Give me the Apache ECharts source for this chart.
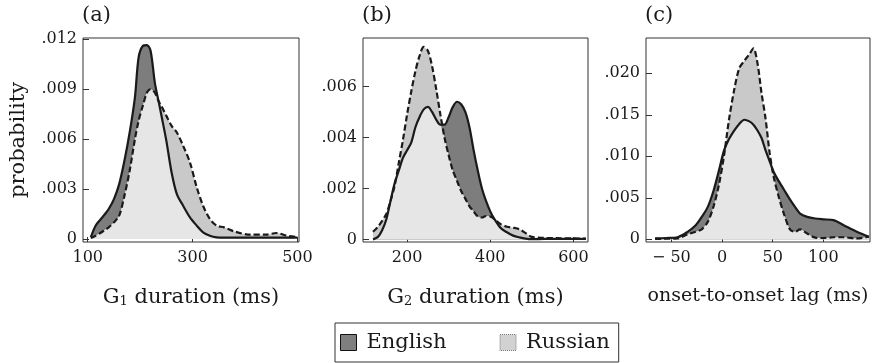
<!DOCTYPE html>
<html>
<head>
<meta charset="utf-8">
<title>duration densities</title>
<script src="https://cdn.jsdelivr.net/npm/echarts@6.0.0/dist/echarts.min.js"></script>
<style>
    html, body { margin: 0; padding: 0; background: #fff; }
    #density_chart { width: 875px; height: 363px; }
</style>
</head>
<body>
<div id="density_chart"></div>
<script>
var fontName = 'DejaVu Serif';
var inkColor = '#1a1a1a';

// (a) G1 duration (ms)
var g1Ms = [106, 115, 124, 133, 140, 150, 160, 170, 180, 190, 197, 205, 213, 220, 228, 235, 242, 250, 260, 270,
    282, 295, 308, 320, 333, 346, 360, 380, 410, 440, 460, 480, 500];
var g1English = [0.00012, 0.0008, 0.00116, 0.0015, 0.0018, 0.0024, 0.0033, 0.0047, 0.0064, 0.0085,
    0.0109, 0.0116, 0.01165, 0.0113, 0.0094, 0.0083, 0.0072, 0.0059, 0.0040, 0.0027,
    0.0020, 0.0013, 0.0008, 0.0004, 0.0002, 0.0001, 0.00008, 0.00008, 0.00008, 0.00008,
    0.00008, 0.00008, 0.00008];
var g1Russian = [0.00006, 0.0002, 0.00036, 0.00055, 0.0007, 0.001, 0.0014, 0.0026, 0.0041, 0.0060,
    0.0071, 0.0080, 0.0088, 0.0090, 0.0088, 0.0083, 0.0079, 0.0074, 0.0068, 0.0064,
    0.0056, 0.0046, 0.0031, 0.0020, 0.0012, 0.0008, 0.0007, 0.00045, 0.00026, 0.00026,
    0.00036, 0.0002, 0.00012];

// (b) G2 duration (ms)
var g2Ms = [118, 130, 140, 150, 160, 170, 180, 190, 200, 210, 220, 230, 240, 250, 260, 270, 280, 290, 300, 310,
    320, 330, 340, 350, 360, 370, 380, 390, 400, 410, 425, 440, 455, 470, 485, 500, 530, 560, 600, 630];
var g2English = [0, 0.0001, 0.00036, 0.00078, 0.0015, 0.0022, 0.0027, 0.0032, 0.0035, 0.0038,
    0.0044, 0.0048, 0.0051, 0.0052, 0.0050, 0.0047, 0.0045, 0.0045, 0.0048, 0.0052,
    0.0054, 0.0053, 0.0050, 0.0044, 0.0035, 0.0027, 0.0020, 0.0015, 0.0011, 0.0008,
    0.00045, 0.00028, 0.00015, 0.00008, 0.00003, 0.00001, 0.00002, 0.00002, 0.00002, 0.00002];
var g2Russian = [0.0003, 0.0005, 0.00073, 0.001, 0.0015, 0.0021, 0.0030, 0.0039, 0.0049, 0.0058,
    0.0066, 0.0072, 0.00755, 0.0074, 0.0068, 0.0059, 0.0049, 0.0040, 0.0033, 0.0027,
    0.0023, 0.0019, 0.0016, 0.0013, 0.0011, 0.0009, 0.00086, 0.00092, 0.0009, 0.0008,
    0.0006, 0.0005, 0.00046, 0.0004, 0.00025, 0.0001, 0.00006, 0.00005, 0.00004, 0.00003];

// (c) onset-to-onset lag (ms)
var lagMs = [-66, -55, -44, -34, -26, -20, -14, -8, -3, 2, 7, 12, 17, 22, 27, 31, 35, 39, 43, 47,
    51, 56, 61, 67, 72, 77, 84, 92, 100, 110, 120, 133, 145];
var lagEnglish = [0.0001, 0.00015, 0.00024, 0.0009, 0.0017, 0.0027, 0.0039, 0.0060, 0.0083, 0.0107,
    0.0121, 0.0131, 0.0139, 0.0144, 0.0142, 0.0138, 0.0131, 0.0122, 0.0107, 0.0094,
    0.0081, 0.0070, 0.0060, 0.0048, 0.0039, 0.0031, 0.0027, 0.0025, 0.0024, 0.0023,
    0.0017, 0.0009, 0.0003];
var lagRussian = [0.00004, 0.00006, 0.0001, 0.0006, 0.0009, 0.0012, 0.0021, 0.0041, 0.0066, 0.0101,
    0.0145, 0.0180, 0.0206, 0.0215, 0.0223, 0.0230, 0.0212, 0.0176, 0.0145, 0.0104,
    0.0075, 0.0051, 0.0031, 0.0012, 0.0009, 0.0012, 0.0007, 0.0002, 0.00015, 0.00024,
    0.00024, 0.0001, 0.0003];

// tick labels
var g1Ticks = [100, 300, 500];
var g2Ticks = [200, 400, 600];
var lagTicks = [-50, 0, 50, 100];
var g1ProbTicks = [0, 0.003, 0.006, 0.009, 0.012];
var g2ProbTicks = [0, 0.002, 0.004, 0.006];
var lagProbTicks = [0, 0.005, 0.010, 0.015, 0.020];

var panelLetters = ['(a)', '(b)', '(c)'];
var axisNames = ['G{sub|1} duration (ms)', 'G{sub|2} duration (ms)', 'onset-to-onset lag (ms)'];

// tiny stand-in for jQuery.extend, no jQuery on this page
function extend(target) {
    for (var i = 1; i < arguments.length; i++) {
        for (var key in arguments[i]) target[key] = arguments[i][key];
    }
    return target;
}

// fills first (russian, english, overlap), then the two outlines on top
function panelSeries(idx, xs, eng, rus) {
    var engData = [], rusData = [], bothData = [];
    for (var i = 0; i < xs.length; i++) {
        engData.push([xs[i], eng[i]]);
        rusData.push([xs[i], rus[i]]);
        bothData.push([xs[i], Math.min(eng[i], rus[i])]);
    }
    var base = {type: 'line', xAxisIndex: idx, yAxisIndex: idx, smooth: 0.3, symbol: 'none', silent: true};
    return [
        extend({}, base, {name: 'Russian', data: rusData, z: 1, itemStyle: {color: '#d2d2d2'},
            lineStyle: {width: 0}, areaStyle: {color: '#c9c9c9', opacity: 1}}),
        extend({}, base, {name: 'English', data: engData, z: 2, itemStyle: {color: '#7f7f7f'},
            lineStyle: {width: 0}, areaStyle: {color: '#7d7d7d', opacity: 1}}),
        extend({}, base, {name: 'overlap', data: bothData, z: 3,
            lineStyle: {width: 0}, areaStyle: {color: '#e6e6e6', opacity: 1}}),
        extend({}, base, {name: 'Russian', data: rusData, z: 4,
            lineStyle: {color: inkColor, width: 2.2, type: [6, 3]}}),
        extend({}, base, {name: 'English', data: engData, z: 5,
            lineStyle: {color: inkColor, width: 2.2}})
    ];
}

function initChart() {
    var chart = echarts.init(document.getElementById('density_chart'), null, {renderer: 'canvas'});

    var grids = [
        {left: 83, top: 38, width: 216, height: 204},
        {left: 363, top: 38, width: 225, height: 204},
        {left: 646, top: 38, width: 224, height: 204}
    ];
    var xRanges = [[91, 503], [94, 635], [-75, 146]];
    var yRanges = [[-0.00018, 0.01208], [-0.0001, 0.0079], [-0.00033, 0.02425]];
    var xTicks = [g1Ticks, g2Ticks, lagTicks];
    var yTicks = [g1ProbTicks, g2ProbTicks, lagProbTicks];
    var nameSizes = [21, 21, 19];

    var option = {
        animation: false,
        backgroundColor: '#fff',
        title: [],
        grid: [],
        xAxis: [],
        yAxis: [],
        series: [],
        legend: {
            left: 335,
            top: 323,
            orient: 'horizontal',
            padding: [9, 9, 9, 5],
            itemGap: 53,
            itemWidth: 16,
            itemHeight: 16,
            borderColor: '#333',
            borderWidth: 1,
            selectedMode: false,
            textStyle: {fontFamily: fontName, fontSize: 21, color: inkColor, padding: [0, 0, 0, 5]},
            data: [
                {name: 'English', icon: 'rect', itemStyle: {color: '#7f7f7f', borderColor: '#111', borderWidth: 1}},
                {name: 'Russian', icon: 'rect', itemStyle: {color: '#d2d2d2', borderColor: '#777', borderWidth: 1, borderType: 'dotted'}}
            ]
        }
    };

    for (var i = 0; i < 3; i++) {
        var g = grids[i];
        option.grid.push({
            left: g.left, top: g.top, width: g.width, height: g.height,
            show: true, borderColor: '#333', borderWidth: 1,
            containLabel: false, outerBoundsMode: 'none'
        });
        option.title.push({
            text: panelLetters[i], left: g.left - 1, top: 5, padding: 0,
            textStyle: {fontFamily: fontName, fontSize: 21, fontWeight: 'normal', color: inkColor}
        });
        option.xAxis.push({
            type: 'value', gridIndex: i,
            min: xRanges[i][0], max: xRanges[i][1],
            name: axisNames[i], nameLocation: 'middle', nameGap: 45, nameMoveOverlap: false,
            nameTextStyle: {
                fontFamily: fontName, fontSize: nameSizes[i], color: inkColor,
                rich: {sub: {fontFamily: fontName, fontSize: 13, verticalAlign: 'bottom', lineHeight: 12, color: inkColor}}
            },
            splitLine: {show: false},
            axisLine: {show: false, onZero: false},
            axisTick: {show: true, inside: true, length: 5, customValues: xTicks[i], lineStyle: {color: '#333'}},
            axisLabel: {
                customValues: xTicks[i], margin: 8,
                fontFamily: fontName, fontSize: 16, color: inkColor,
                formatter: function (v) { return v < 0 ? '\u2212 ' + Math.abs(v) : String(v); }
            }
        });
        option.yAxis.push({
            type: 'value', gridIndex: i,
            min: yRanges[i][0], max: yRanges[i][1],
            name: i === 0 ? 'probability' : '', nameLocation: 'middle', nameGap: 54, nameRotate: 90,
            nameMoveOverlap: false,
            nameTextStyle: {fontFamily: fontName, fontSize: 21, color: inkColor},
            splitLine: {show: false},
            axisLine: {show: false, onZero: false},
            axisTick: {show: true, inside: true, length: 6, customValues: yTicks[i], lineStyle: {color: '#333'}},
            axisLabel: {
                customValues: yTicks[i], margin: 6,
                fontFamily: fontName, fontSize: 16, color: inkColor,
                formatter: function (v) { return v === 0 ? '0' : v.toFixed(3).replace(/^0/, ''); }
            }
        });
    }

    var sets = [[g1Ms, g1English, g1Russian], [g2Ms, g2English, g2Russian], [lagMs, lagEnglish, lagRussian]];
    for (var k = 0; k < 3; k++) {
        option.series = option.series.concat(panelSeries(k, sets[k][0], sets[k][1], sets[k][2]));
    }

    chart.setOption(option);
}

initChart();
</script>
</body>
</html>
